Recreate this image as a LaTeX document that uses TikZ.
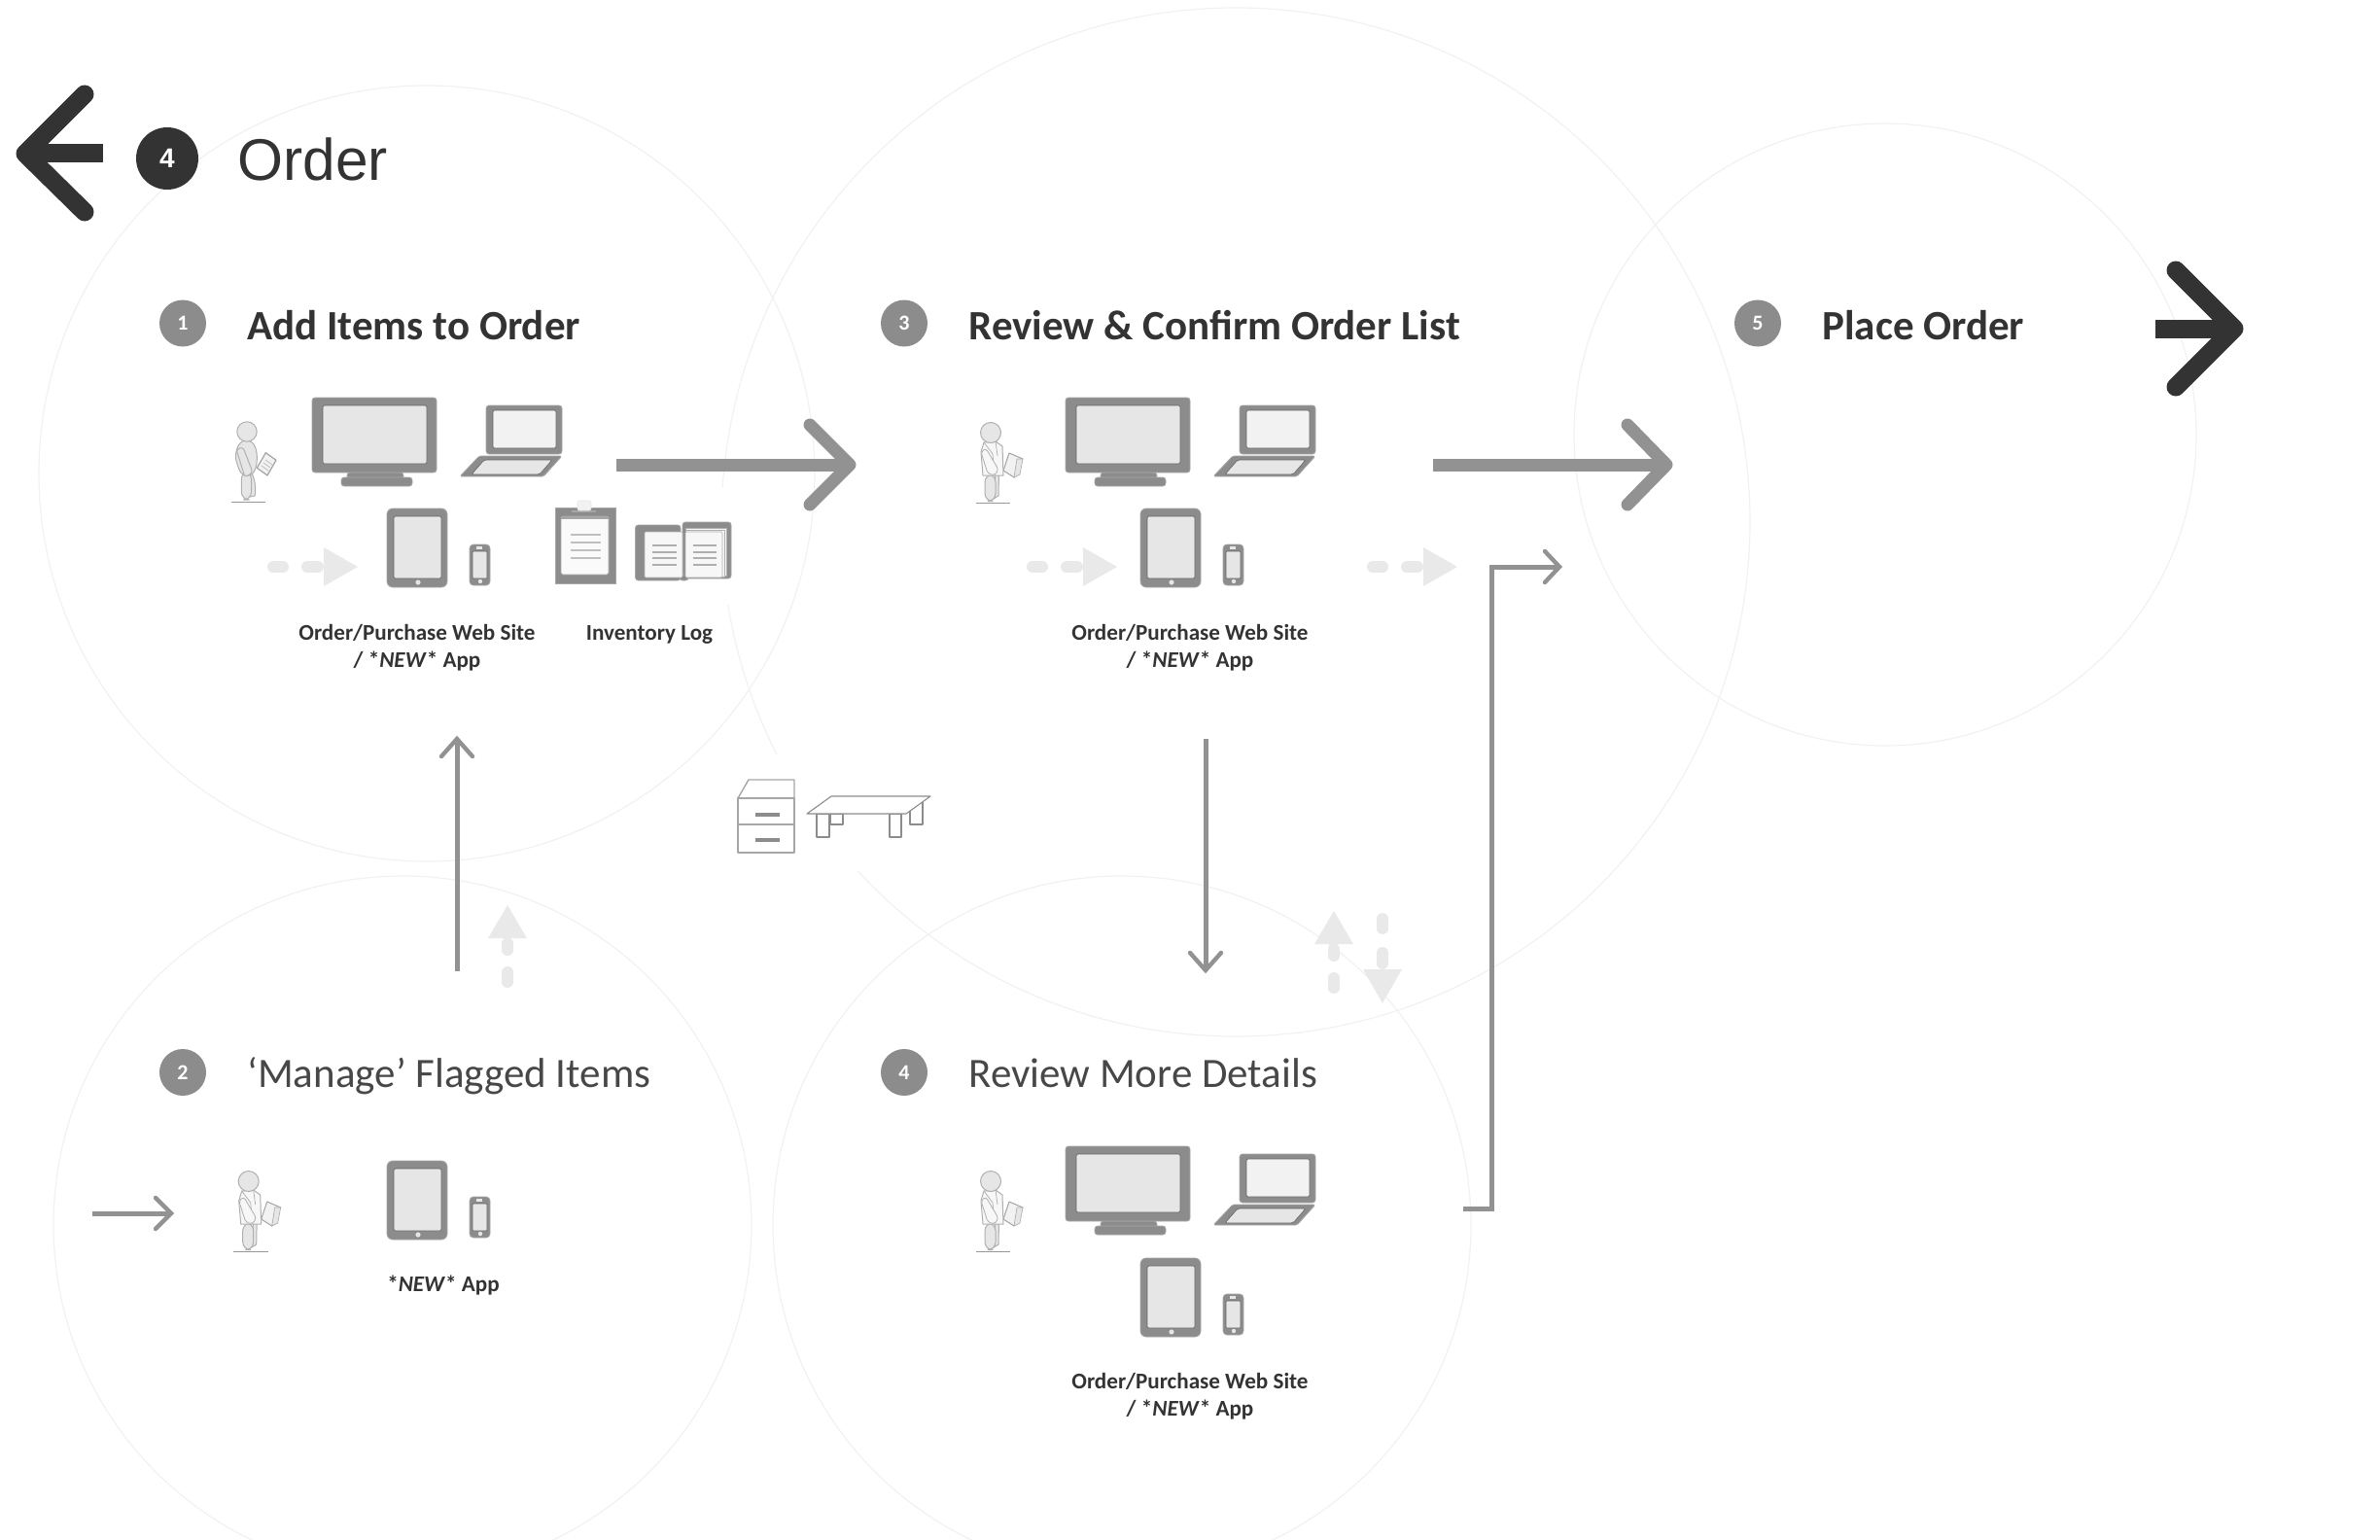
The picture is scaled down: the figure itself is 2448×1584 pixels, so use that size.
\documentclass[tikz,border=0pt]{standalone}
\usepackage{fontspec}
\setmainfont{Carlito}
\newfontfamily\ordfont{Liberation Sans}
\usetikzlibrary{arrows.meta}
\definecolor{ink}{HTML}{333333}
\definecolor{gr}{HTML}{8C8C8C}
\definecolor{arr}{HTML}{929292}
\definecolor{edge}{HTML}{A6A6A6}
\definecolor{lite}{HTML}{E6E6E6}
\definecolor{ghost}{HTML}{E9E9E9}
\definecolor{ring}{HTML}{F1F1F1}
\tikzset{
  x=0.5pt,y=-0.5pt,
  ringline/.style={draw=ring,line width=0.6pt},
  shell/.style={fill=gr,draw=edge,line width=0.4pt,rounded corners=1.5pt},
  glass/.style={fill=lite,draw=gr!70!black,line width=0.3pt,rounded corners=1pt},
  paper/.style={fill=white!97!black,draw=gr!70,line width=0.3pt},
  rule/.style={draw=gr!70,line width=0.55pt},
  outl/.style={draw=gr!70,line width=0.5pt,fill=lite,line join=round},
  fur/.style={draw=gr,line width=0.55pt,fill=white,line join=round},
  furb/.style={draw=edge,line width=0.7pt,fill=white,line join=round},
  badge/.style={circle,fill=gr,text=white,minimum size=24pt,inner sep=0pt,font=\fontsize{11}{11}\selectfont\bfseries},
  headb/.style={anchor=base west,text=ink,inner sep=0pt,font=\fontsize{21.5}{21.5}\selectfont\bfseries},
  headr/.style={anchor=base west,text=ink!90,inner sep=0pt,font=\fontsize{21.5}{21.5}\selectfont},
  small/.style={anchor=base,text=ink,inner sep=0pt,font=\fontsize{11.55}{11.55}\selectfont\bfseries},
  thin arrow/.style={draw=arr,line width=2.5pt,line join=miter},
  thin head/.style={draw=arr,line width=2.2pt,line cap=round,line join=miter},
  big/.style={draw=arr,line width=6.5pt},
  bighead/.style={draw=arr,line width=6.5pt,line cap=round,line join=round},
  dark/.style={draw=ink,line width=9.5pt},
  darkhead/.style={draw=ink,line width=9.5pt,line cap=round,line join=round},
  pill/.style={draw=ghost,line width=5.75pt,line cap=round},
  monitor/.pic={
    \path[shell] (357,485) rectangle (415,492);
    \path[shell] (351,490) rectangle (424,499);
    \path[shell] (321,408) rectangle (449,485);
    \path[glass] (332,416) rectangle (439,476);
  },
  laptop/.pic={
    \path[shell] (500,416) rectangle (578,466);
    \path[glass,fill=white!95!black] (507,421) rectangle (572,460);
    \path[shell,rounded corners=.8pt] (473,489) -- (493,468) -- (578,468) -- (559,489) -- cycle;
    \path[glass] (485,487) -- (498,472) -- (568,472) -- (555,487) -- cycle;
  },
  tablet/.pic={
    \path[shell,rounded corners=3pt] (398,523) rectangle (460,604);
    \path[glass] (405,531) rectangle (454,595);
    \path[fill=white!90!black] (430,599) circle[radius=2.6];
  },
  phone/.pic={
    \path[shell,rounded corners=2pt] (483,560) rectangle (504,602);
    \path[glass,rounded corners=.5pt] (486,567) rectangle (501,595);
    \path[fill=white!90!black] (494,598) circle[radius=2.2];
    \path[fill=lite] (490,562) rectangle (496,565);
  },
  clipb/.pic={
    \path[fill=gr,draw=edge,line width=.4pt] (571,522) rectangle (633,600);
    \path[fill=white!98!black,draw=edge,line width=.3pt,rounded corners=.8pt] (577,531) rectangle (626,591);
    \path[fill=edge] (577,531) rectangle (626,533.5);
    \path[fill=edge] (588,525) rectangle (613,527);
    \path[fill=white!95!black,draw=lite,line width=.3pt,rounded corners=1pt] (594,515) rectangle (608,525);
    \foreach \yy in {550,558,566,574} \draw[rule,draw=gr!55] (587,\yy) -- (617.5,\yy);
  },
  bookb/.pic={
    \path[shell] (653.5,539) rectangle (700,596);
    \path[shell] (702,536) rectangle (752,594);
    \path[shell] (699,590) rectangle (708,596);
    \path[paper] (705,542) rectangle (747,591);
    \path[paper] (705,544) rectangle (745,592);
    \path[paper,rounded corners=.6pt] (663,546) rectangle (702,593);
    \path[paper,rounded corners=.6pt] (705,546) rectangle (743,593);
    \foreach \yy in {560,567,573,580} {
      \draw[rule] (671,\yy) -- (696,\yy);
      \draw[rule] (712.5,\yy) -- (737,\yy);
    }
  },
  persona/.pic={
    \path[fill=gr!90] (-15.7,71.6) rectangle (19.3,73);
    \path[outl] (2,40) .. controls (10,45) and (9,65) .. (8,66) -- (-2,68) -- (-2,45) -- cycle;
    \path[outl,rounded corners=4pt] (-5.7,41) rectangle (4.5,70);
    \path[outl] (-1,9) .. controls (-10,9) and (-14,25) .. (-10,33) .. controls (-8,40) and (-6,46) .. (1,45) .. controls (10,45) and (11,30) .. (10,22) .. controls (9,14) and (6,9) .. (-1,9) -- cycle;
    \path[outl,rounded corners=1.5pt] (-11,18) -- (-4,16) -- (6,42) -- (-2,47) -- cycle;
    \path[fill=white!95!black,draw=gr!80,line width=.6pt,line join=round] (19.3,21.7) -- (30,29.3) -- (21,45) -- (10.3,37.3) -- cycle;
    \draw[gr!60,line width=.35pt] (17,32) -- (24,37) (15,35) -- (22,40) (19,29) -- (26,34);
    \path[outl] (0,0) circle[radius=10.2];
  },
  personb/.pic={
    \path[fill=gr!90] (-15.3,71.6) rectangle (20,73);
    \path[outl] (5,40) -- (8.5,40) -- (8,65) -- (3,68) -- cycle;
    \path[outl,rounded corners=4pt] (-6,43) rectangle (5,70.5);
    \path[fill=white!95!black,draw=gr!80,line width=.5pt,line join=round] (19,21) -- (33,27) -- (24,46) -- (13,39) -- cycle;
    \path[fill=lite,draw=gr!70,line width=.35pt] (27,27) -- (33,27) -- (30,43) -- (24,46) -- cycle;
    \path[draw=gr!70,line width=.5pt,fill=white!97!black,line join=round] (-7,10) -- (-10,20) -- (-8,44) -- (13,44) -- (12,14) -- (5,9) -- cycle;
    \draw[gr!70,line width=.35pt] (-7,10) -- (2,22) -- (4,44) (5,9) -- (7,24);
    \path[draw=gr!70,line width=.4pt,fill=white!97!black,rounded corners=1.5pt] (-10,20) -- (-5,16) -- (8,38) -- (4,44) -- (-3,42) -- cycle;
    \path[outl] (0,0) circle[radius=10.5];
  },
  dasharr/.pic={
    \path[fill=ghost] (0,0) -- (-35,-20) -- (-35,20) -- cycle;
    \draw[pill] (-87.25,0) -- (-76.75,0);
    \draw[pill] (-52.25,0) -- (-40.75,0);
  },
  dashshort/.pic={
    \draw[pill] (-46.25,0) -- (-39,0);
    \draw[pill] (-79.25,0) -- (-68.75,0);
    \path[fill=ghost] (0,0) -- (-34,-20) -- (-34,20) -- cycle;
  }
}
\begin{document}
\begin{tikzpicture}
\useasboundingbox (0,0) rectangle (2448,1584);
\clip (0,0) rectangle (2448,1584);
% large background circles
\path[ringline] (1271,537) circle[radius=529];
\path[fill=white] (700,501) rectangle (790,622);
\path[fill=white] (750,776) rectangle (960,896);
\path[ringline] (439,487) circle[radius=399];
\path[ringline] (414,1260) circle[radius=359];
\path[ringline] (1154,1260) circle[radius=359];
\path[ringline] (1939,447) circle[radius=320];

% titles
\coordinate (backtip) at (26,158);
\coordinate (backend) at (106,158);
\coordinate (backa) at (87,97);
\coordinate (backb) at (87,218);
\draw[dark] (backend) -- (backtip);
\draw[darkhead] (backa) -- (backtip) -- (backb);
\node[badge,fill=ink,minimum size=32pt,font=\fontsize{14}{14}\selectfont\bfseries\ordfont] (top4) at (172,163) {4};
\node[anchor=base west,inner sep=0pt,text=ink,font=\fontsize{30.2}{30.2}\selectfont\ordfont] (ordert) at (244,185) {Order};

\coordinate (nexttip) at (2298,338);
\coordinate (nextend) at (2217,338);
\coordinate (nexta) at (2238,278);
\coordinate (nextb) at (2238,398);
\draw[dark] (nextend) -- (nexttip);
\draw[darkhead] (nexta) -- (nexttip) -- (nextb);

\node[badge] (b1) at (188,332.5) {1};
\node[badge] (b3) at (930,332.5) {3};
\node[badge] (b5) at (1808,332.5) {5};
\node[badge] (b2) at (188,1103) {2};
\node[badge] (b4) at (930,1103) {4};
\node[headb] (h1) at (254,349) {Add Items to Order};
\node[headb] (h3) at (996,349) {Review \& Confirm Order List};
\node[headb] (h5) at (1874,349) {Place Order};
\node[headr] (h2) at (254,1118) {‘Manage’ Flagged Items};
\node[headr] (h4) at (996,1118) {Review More Details};

% icons
\pic at (254,444) {persona};
\pic at (0,1) {monitor};
\pic at (0,1) {laptop};
\pic at (0,0) {tablet};
\pic at (0,0) {phone};
\pic at (0,0) {clipb};
\pic at (0,1) {bookb};

\pic at (1019,445) {personb};
\pic at (775,1) {monitor};
\pic at (775,1) {laptop};
\pic at (775,0) {tablet};
\pic at (775,0) {phone};

\pic at (255.7,1215) {personb};
\pic at (0,671) {tablet};
\pic at (0,671) {phone};

\pic at (1019,1215) {personb};
\pic at (775,771) {monitor};
\pic at (775,771) {laptop};
\pic at (775,771) {tablet};
\pic at (775,771) {phone};

% labels
\node[small] (l1a) at (429,658) {Order/Purchase Web Site};
\node[small] (l1b) at (429,686) {/ *\textit{NEW}* App};
\node[small] (l1c) at (668,658) {Inventory Log};
\node[small] (l3a) at (1224,658) {Order/Purchase Web Site};
\node[small] (l3b) at (1224,686) {/ *\textit{NEW}* App};
\node[small] (l4a) at (1224,1428) {Order/Purchase Web Site};
\node[small] (l4b) at (1224,1456) {/ *\textit{NEW}* App};
\node[small] (l2a) at (456,1328) {*\textit{NEW}* App};

% furniture
\path[furb] (759,821) -- (770,802) -- (817,802) -- (817,821) -- cycle;
\path[furb] (759,821) rectangle (817,848);
\path[furb] (759,848) rectangle (817,877);
\path[fill=gr] (777,836) rectangle (802,840);
\path[fill=gr] (777,862) rectangle (802,866);
\path[fur] (854,837) rectangle (867,848);
\path[fur] (936,825) rectangle (949,848);
\path[fur] (840,837) rectangle (853,861);
\path[fur] (915,837) rectangle (927,861);
\path[fur] (830,837) -- (855,819) -- (957,819) -- (932,837) -- cycle;

% ghost arrows
\pic at (368,583) {dasharr};
\pic at (1149,583) {dasharr};
\pic at (1499,583) {dasharr};
\pic[rotate=90] at (522,931) {dashshort};
\pic[rotate=90] at (1372,937) {dashshort};
\pic[rotate=-90] at (1422,1032) {dasharr};

% big grey arrows
\coordinate (ba1) at (634,478); \coordinate (bb1) at (874,478);
\coordinate (bc1) at (833,437); \coordinate (bd1) at (833,519);
\draw[big] (ba1) -- (bb1);
\draw[bighead] (bc1) -- (bb1) -- (bd1);
\coordinate (ba2) at (1474,478); \coordinate (bb2) at (1714,478);
\coordinate (bc2) at (1674,437); \coordinate (bd2) at (1674,519);
\draw[big] (ba2) -- (bb2);
\draw[bighead] (bc2) -- (bb2) -- (bd2);

% thin arrows
\coordinate (ua) at (470,999); \coordinate (ub) at (470,760);
\draw[thin arrow] (ua) -- (ub);
\draw[thin head] (454,778) -- (ub) -- (486,778);
\coordinate (da) at (1240,760); \coordinate (db) at (1240,998);
\draw[thin arrow] (da) -- (db);
\draw[thin head] (1224,980) -- (db) -- (1256,980);
\coordinate (ra) at (95,1248); \coordinate (rb) at (176,1248);
\draw[thin arrow] (ra) -- (rb);
\draw[thin head] (160,1232) -- (rb) -- (160,1264);
\coordinate (ea) at (1505,1243); \coordinate (eb) at (1534,1243);
\coordinate (ec) at (1534,583); \coordinate (ed) at (1604,583);
\draw[thin arrow] (ea) -- (eb) -- (ec) -- (ed);
\draw[thin head] (1589,567) -- (ed) -- (1589,599);
\end{tikzpicture}
\end{document}
